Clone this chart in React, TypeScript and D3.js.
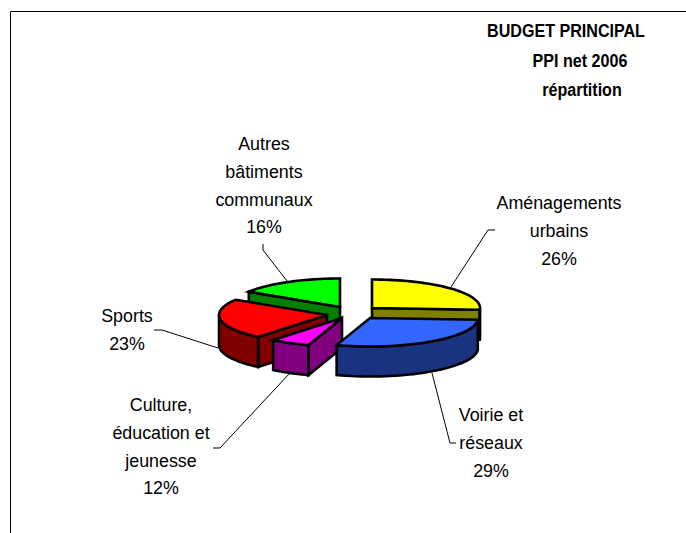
import React from "react";
import * as d3 from "d3";

const sliceNames = ["Aménagements urbains", "Voirie et réseaux", "Culture, éducation et jeunesse", "Sports", "Autres bâtiments communaux"];
// Angular shares as drawn in the picture
const sliceShares = [26, 29, 6, 23, 16];
const topColors = ["#FFFF00", "#3366FF", "#FF00FF", "#FF0000", "#00FF00"];
const sideColors = ["#808000", "#1A3380", "#800080", "#800000", "#008000"];
const explodedCentersX = [372, 370, 342, 327, 340];
const explodedCentersY = [308, 318, 318, 315, 307];
const paintOrder = [0, 4, 3, 2, 1];

const titleLines = [
  { text: "BUDGET PRINCIPAL", x: 566, y: 37 },
  { text: "PPI net 2006", x: 580, y: 67 },
  { text: "répartition", x: 582, y: 96 },
];
const labels = [
  { lines: ["Aménagements", "urbains", "26%"], x: 559, y: 209 },
  { lines: ["Voirie et", "réseaux", "29%"], x: 491, y: 421 },
  { lines: ["Culture,", "éducation et", "jeunesse", "12%"], x: 161, y: 411 },
  { lines: ["Sports", "23%"], x: 127, y: 322 },
  { lines: ["Autres", "bâtiments", "communaux", "16%"], x: 264, y: 150 },
];
const leaders: [number, number][][] = [
  [[495, 230], [488, 230], [451, 287]],
  [[432, 373], [450, 443], [456, 443]],
  [[213, 448], [220, 448], [289, 374]],
  [[154, 330], [162, 330], [218, 348]],
  [[263, 244], [263, 250], [287, 281]],
];

const RX = 108;
const RY = 28.5;
const DEPTH = 30;

const pieLayout = d3.pie<number>().sort(null).value((d) => d);
const slices = pieLayout(sliceShares);
const pt = (i: number, a: number, dz = 0): [number, number] => [
  explodedCentersX[i] + RX * Math.sin(a),
  explodedCentersY[i] - RY * Math.cos(a) + dz,
];
const line = d3.line<[number, number]>();
const arcPts = (i: number, a0: number, a1: number, dz = 0) =>
  d3.range(0, 41).map((k) => pt(i, a0 + ((a1 - a0) * k) / 40, dz));

function Slice({ i }: { i: number }) {
  const { startAngle: s, endAngle: e } = slices[i];
  const c: [number, number] = [explodedCentersX[i], explodedCentersY[i]];
  const cb: [number, number] = [c[0], c[1] + DEPTH];
  const faces: [number, number][][] = [];
  if (Math.sin(e) > 0.01) faces.push([c, pt(i, e), pt(i, e, DEPTH), cb]);
  if (-Math.sin(s) > 0.01) faces.push([c, pt(i, s), pt(i, s, DEPTH), cb]);
  const a0 = Math.max(s, Math.PI / 2);
  const a1 = Math.min(e, (3 * Math.PI) / 2);
  if (a1 > a0) faces.push([...arcPts(i, a0, a1), ...arcPts(i, a0, a1, DEPTH).reverse()]);
  return (
    <g stroke="#000" strokeWidth={2.6} strokeLinejoin="miter">
      {faces.map((f, k) => (
        <path key={k} d={line(f)! + "Z"} fill={sideColors[i]} />
      ))}
      <path d={line([c, ...arcPts(i, s, e)])! + "Z"} fill={topColors[i]} />
    </g>
  );
}

const font = "'Liberation Sans', Arial, sans-serif";

export default function App() {
  return (
    <svg width={686} height={533} style={{ position: "absolute", left: 0, top: 0, background: "#fff" }}>
      <path d="M10.5 533V11.5H686" fill="none" stroke="#000" strokeWidth={1} />
      {leaders.map((l, i) => (
        <path key={i} d={line(l)!} fill="none" stroke="#000" strokeWidth={1} />
      ))}
      {paintOrder.map((i) => (
        <Slice key={i} i={i} />
      ))}
      <g fontFamily={font} fontSize={18.5} fontWeight="bold" textAnchor="middle" fill="#000">
        {titleLines.map((t) => (
          <text key={t.text} transform={`translate(${t.x},${t.y}) scale(0.87,1)`}>{t.text}</text>
        ))}
      </g>
      <g fontFamily={font} fontSize={19} textAnchor="middle" fill="#000">
        {labels.map((l, i) =>
          l.lines.map((t, k) => (
            <text key={k + "-" + i} transform={`translate(${l.x},${l.y + k * 27.8}) scale(0.94,1)`}>{t}</text>
          ))
        )}
      </g>
    </svg>
  );
}
